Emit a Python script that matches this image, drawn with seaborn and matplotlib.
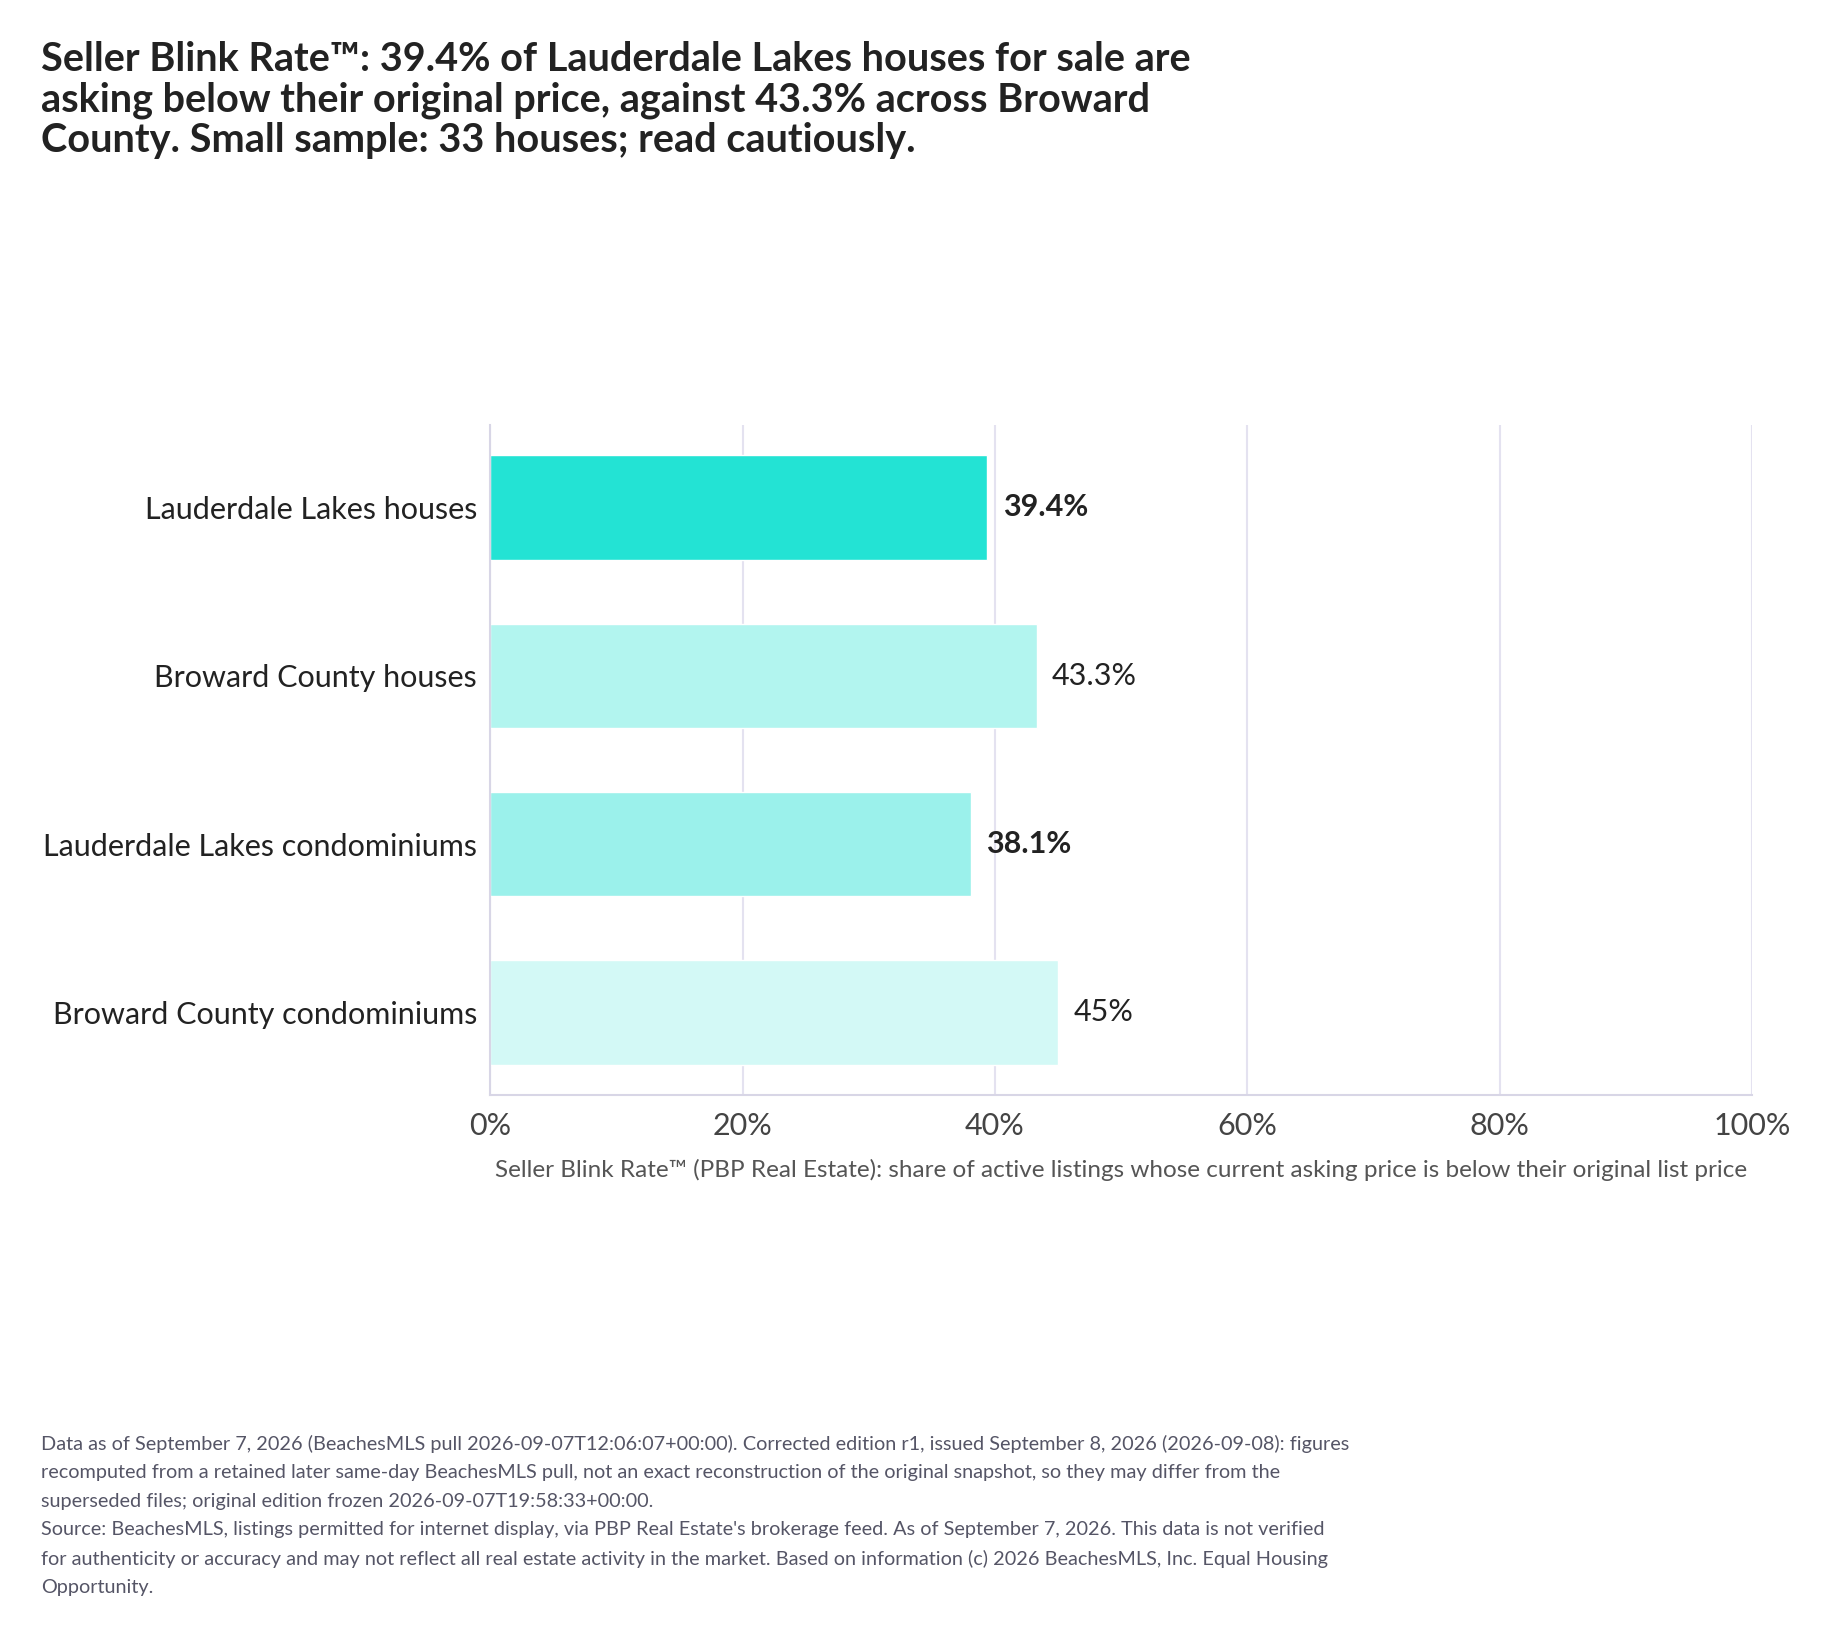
import matplotlib
matplotlib.use("Agg")
import matplotlib.pyplot as plt
import seaborn as sns
import pandas as pd

categories = ["Lauderdale Lakes houses", "Broward County houses",
              "Lauderdale Lakes condominiums", "Broward County condominiums"]
values = [39.4, 43.3, 38.1, 45.0]
value_labels = ["39.4%", "43.3%", "38.1%", "45%"]
bold_labels = [True, False, True, False]
bar_colors = ["#23E3D4", "#B2F5EF", "#9BF1EB", "#D3F9F6"]
xticks = [0, 20, 40, 60, 80, 100]

title = ("Seller Blink Rate\u2122: 39.4% of Lauderdale Lakes houses for sale are\n"
         "asking below their original price, against 43.3% across Broward\n"
         "County. Small sample: 33 houses; read cautiously.")
xlabel = ("Seller Blink Rate\u2122 (PBP Real Estate): share of active listings whose "
          "current asking price is below their original list price")
footnote = ("Data as of September 7, 2026 (BeachesMLS pull 2026-09-07T12:06:07+00:00). Corrected edition r1, issued September 8, 2026 (2026-09-08): figures\n"
            "recomputed from a retained later same-day BeachesMLS pull, not an exact reconstruction of the original snapshot, so they may differ from the\n"
            "superseded files; original edition frozen 2026-09-07T19:58:33+00:00.\n"
            "Source: BeachesMLS, listings permitted for internet display, via PBP Real Estate's brokerage feed. As of September 7, 2026. This data is not verified\n"
            "for authenticity or accuracy and may not reflect all real estate activity in the market. Based on information (c) 2026 BeachesMLS, Inc. Equal Housing\n"
            "Opportunity.")

sns.set_style("white")
plt.rcParams["font.family"] = ["Lato", "DejaVu Sans"]

df = pd.DataFrame({"category": categories, "value": values})

fig = plt.figure(figsize=(18.26, 16.44), dpi=100)
ax = fig.add_axes([0.2685, 0.334, 0.691, 0.4075])
sns.barplot(data=df, x="value", y="category", hue="category", palette=bar_colors,
            legend=False, width=0.62, ax=ax, saturation=1)

ax.set_xlim(0, 100)
ax.set_ylim(3.49, -0.49)
ax.set_xticks(xticks)
ax.set_xticklabels([f"{t}%" for t in xticks], fontsize=22, color="#444444")
ax.tick_params(axis="y", labelsize=22, colors="#222222", length=6, color="#D8D6E6")
ax.tick_params(axis="x", length=6, color="#D8D6E6", pad=6)
ax.set_ylabel("")
ax.set_xlabel(xlabel, fontsize=17.5, color="#555555")
ax.xaxis.set_label_coords(0.5, -0.095)
ax.grid(axis="x", color="#E4E2F0", linewidth=1.5)
ax.set_axisbelow(True)
for s in ["top", "right"]:
    ax.spines[s].set_visible(False)
for s in ["left", "bottom"]:
    ax.spines[s].set_color("#D8D6E6")
    ax.spines[s].set_linewidth(1.5)

for i, (v, lab, b) in enumerate(zip(values, value_labels, bold_labels)):
    ax.text(v + 1.2, i, lab, va="center", ha="left", fontsize=22,
            fontweight="bold" if b else "normal", color="#222222")

fig.text(0.0225, 0.975, title, fontsize=28.5, fontweight="bold", color="#222222",
         va="top", ha="left", linespacing=1.1)
fig.text(0.0225, 0.127, footnote, fontsize=14.3, color="#555566",
         va="top", ha="left", linespacing=1.8)

fig.savefig("out.png", dpi=100)
